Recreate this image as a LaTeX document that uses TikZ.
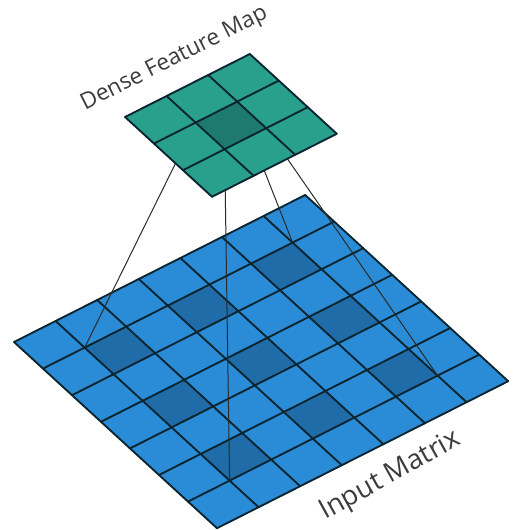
\documentclass[tikz,border=0pt]{standalone}
\usepackage{fontspec}
\setmainfont{Open Sans}
\definecolor{inblue}{HTML}{2A8BD6}
\definecolor{indark}{HTML}{1F6CA8}
\definecolor{fmteal}{HTML}{28A08B}
\definecolor{fmdark}{HTML}{1D7A6C}
\definecolor{gridc}{HTML}{0B2530}
\definecolor{linkc}{HTML}{2B2B2B}
\definecolor{labelc}{HTML}{3C3C3C}
\begin{document}
\begin{tikzpicture}[x=0.75pt,y=-0.75pt,
  cellgrid/.style={draw=gridc, line width=1.4pt, line cap=round, line join=round},
  link/.style={draw=linkc, line width=0.75pt},
  skew/.style={x={(31.2pt,15.75pt)}, y={(21.75pt,-19.95pt)}},
  labeltext/.style={text=labelc, inner sep=0pt}]
\useasboundingbox (0,0) rectangle (512,530);

% corners of the centre cell of the feature map
\begin{scope}[shift={(125,117)}, skew]
  \coordinate (fm-a) at (1,1);
  \coordinate (fm-b) at (2,1);
  \coordinate (fm-c) at (2,2);
  \coordinate (fm-d) at (1,2);
\end{scope}

% 7x7 input matrix with the dilated 3x3 receptive field
\begin{scope}[shift={(14,342)}, skew]
  \fill[inblue] (0,0) -- (7,0) -- (7,7) -- (0,7) -- cycle;
  \foreach \i in {1,3,5}
    \foreach \j in {1,3,5}
      \fill[indark] (\i,\j) -- ++(1,0) -- ++(0,1) -- ++(-1,0) -- cycle;
  \foreach \k in {0,...,7} {
    \draw[cellgrid] (\k,0) -- (\k,7);
    \draw[cellgrid] (0,\k) -- (7,\k);
  }
  \coordinate (in-a) at (1,1);
  \coordinate (in-b) at (6,1);
  \coordinate (in-c) at (6,6);
  \coordinate (in-d) at (1,6);
\end{scope}

% projection lines from the output cell to the receptive field
\draw[link] (fm-a) -- (in-a);
\draw[link] (fm-b) -- (in-b);
\draw[link] (fm-c) -- (in-c);
\draw[link] (fm-d) -- (in-d);

% 3x3 dense feature map
\begin{scope}[shift={(125,117)}, skew]
  \fill[fmteal] (0,0) -- (3,0) -- (3,3) -- (0,3) -- cycle;
  \fill[fmdark] (1,1) -- (2,1) -- (2,2) -- (1,2) -- cycle;
  \foreach \k in {0,...,3} {
    \draw[cellgrid] (\k,0) -- (\k,3);
    \draw[cellgrid] (0,\k) -- (3,\k);
  }
\end{scope}

\node[labeltext, anchor=base, rotate=26.8, font={\fontsize{17}{20}\selectfont}]
  (fmlabel) at (177,64) {Dense Feature Map};
\node[labeltext, anchor=base, rotate=29, font={\fontsize{20.5}{24}\selectfont}]
  (inlabel) at (394,482) {Input Matrix};
\end{tikzpicture}
\end{document}
